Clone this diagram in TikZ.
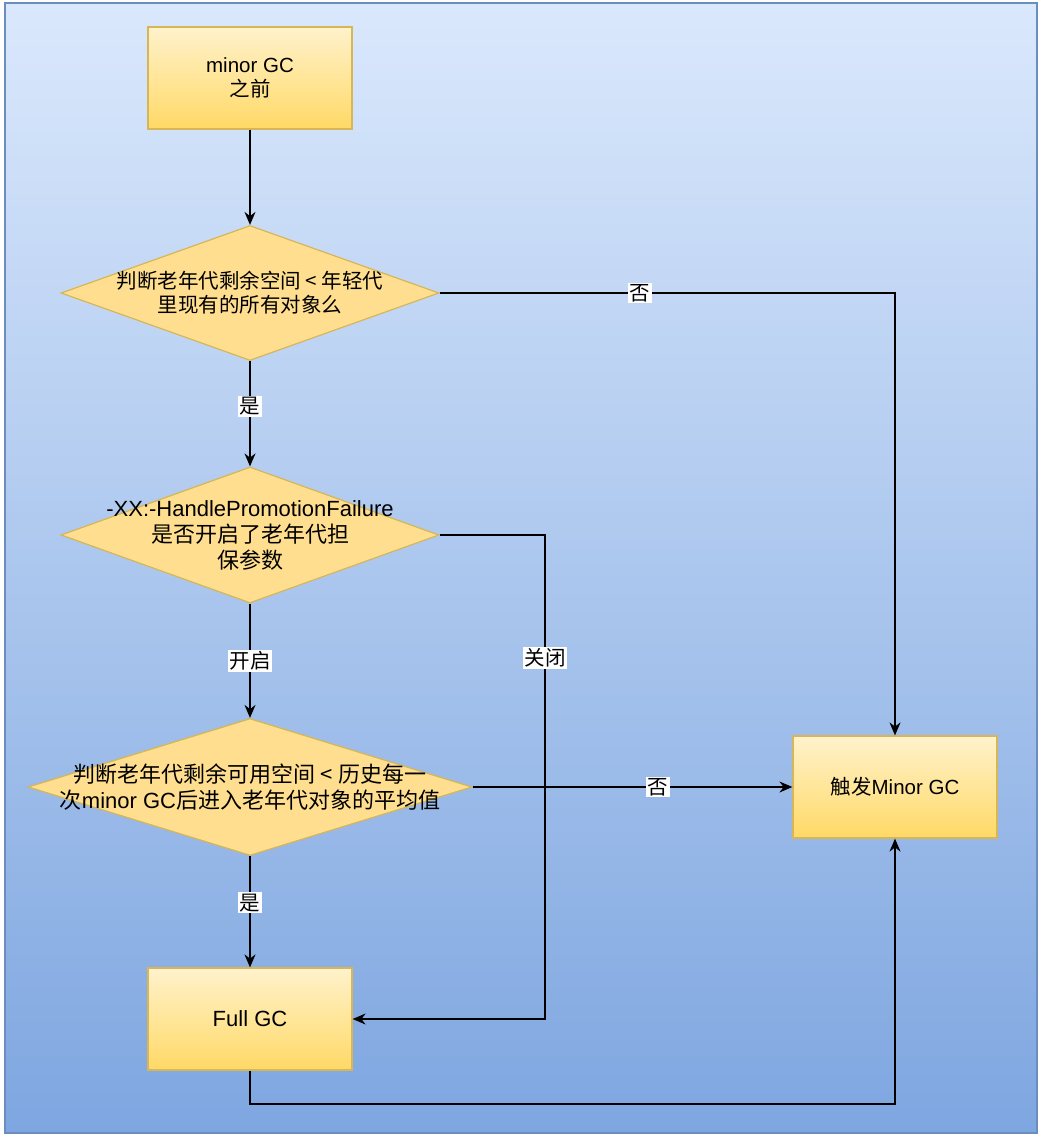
\documentclass[tikz,border=0pt]{standalone}
\usepackage{fontspec}
\setmainfont{Liberation Sans}
\newfontfamily\cjk{Noto Sans CJK SC}
\newcommand{\zh}[1]{{\cjk #1}}
\usetikzlibrary{shapes.geometric,arrows.meta}

\definecolor{bgtop}{HTML}{DAE8FC}
\definecolor{bgbottom}{HTML}{7EA6E0}
\definecolor{bgline}{HTML}{6C8EBF}
\definecolor{boxtop}{HTML}{FFF2CC}
\definecolor{boxbottom}{HTML}{FFD966}
\definecolor{boxline}{HTML}{D6B656}
\definecolor{decfill}{HTML}{FFDF8F}

\tikzset{
  stepbox/.style={draw=boxline, line width=1.2pt, top color=boxtop, bottom color=boxbottom,
    minimum width=204pt, minimum height=102pt, inner sep=0pt, align=center},
  decision/.style={diamond, draw=boxline, line width=1.2pt, fill=decfill, inner sep=0pt},
  dtext/.style={align=center},
  bigtext/.style={font=\fontsize{22}{26}\selectfont},
  flow/.style={draw, line width=1.6pt, -{Stealth[length=13pt,width=11pt]}},
  lbl/.style={fill=white, inner sep=1.5pt}
}

\begin{document}
\begin{tikzpicture}[x=1pt, y=-1pt, font=\fontsize{20.5}{24}\selectfont]
\useasboundingbox (0,0) rectangle (1042,1138);
\path[draw=bgline, line width=2pt, top color=bgtop, bottom color=bgbottom] (5,3) rectangle (1037,1133);

% boxes
\node[stepbox] (start) at (250,78) {minor GC\\\zh{之前}};
\node[stepbox, bigtext] (full) at (250,1019) {Full GC};
\node[stepbox] (minor) at (895,787) {\zh{触发}Minor GC};

% decisions
\node[decision, minimum width=378pt, minimum height=135pt] (d1) at (250,293) {};
\node[dtext] at (d1) {\zh{判断老年代剩余空间 < 年轻代}\\\zh{里现有的所有对象么}};
\node[decision, minimum width=378pt, minimum height=136pt] (d2) at (250,535) {};
\node[dtext, bigtext] at (d2) {-XX:-HandlePromotionFailure\\\zh{是否开启了老年代担}\\\zh{保参数}};
\node[decision, minimum width=444pt, minimum height=137pt] (d3) at (250,787) {};
\node[dtext, bigtext] at (d3) {\zh{判断老年代剩余可用空间 < 历史每一}\\\zh{次}minor GC\zh{后进入老年代对象的平均值}};

\coordinate (c1) at (545,535);
\coordinate (c2) at (250,1104);

% connectors
\draw[flow] (start) -- (d1);
\draw[flow] (d1.east) -| (minor.north) node[lbl, pos=0.22] {\zh{否}};
\draw[flow] (d1) -- (d2) node[lbl, pos=0.43] {\zh{是}};
\draw[flow] (d2.east) -- (c1) |- (full.east) node[lbl, pos=0.127] {\zh{关闭}};
\draw[flow] (d2) -- (d3) node[lbl, midway] {\zh{开启}};
\draw[flow] (d3.east) -- (minor.west) node[lbl, pos=0.58] {\zh{否}};
\draw[flow] (d3) -- (full) node[lbl, pos=0.42] {\zh{是}};
\draw[flow] (full.south) -- (c2) -| (minor.south);
\end{tikzpicture}
\end{document}
